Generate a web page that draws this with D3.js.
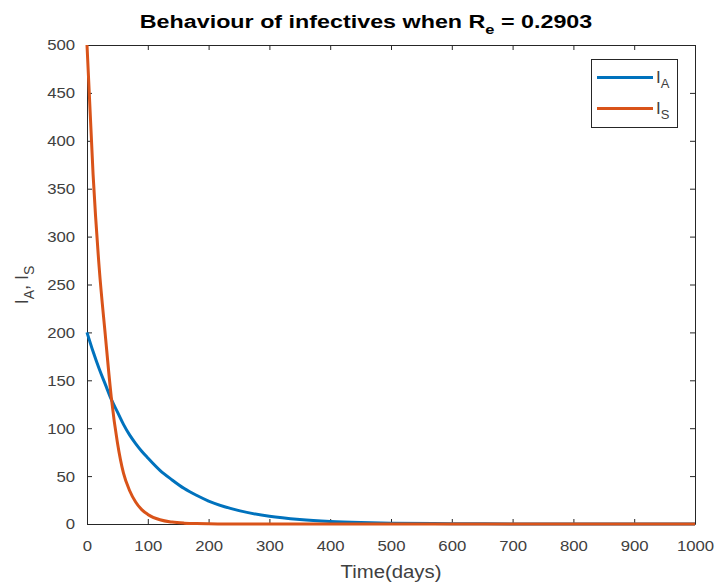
<!DOCTYPE html>
<html>
<head>
<meta charset="utf-8">
<script src="https://cdn.jsdelivr.net/npm/d3@7"></script>
<style>
  body { margin: 0; background: #fff; }
  text { font-family: "Liberation Sans", Arial, sans-serif; }
</style>
</head>
<body>
<script>
// time points (days)
var days = [0, 10, 20, 30, 40, 50, 60, 70, 80, 90, 100, 120, 140, 160, 180, 200,
            250, 300, 350, 400, 450, 500, 600, 700, 800, 900, 1000];
// asymptomatic infectives
var infA = [200, 180, 162, 146, 130, 117, 104, 93, 84, 76, 69, 56, 46, 37, 30, 24,
            14, 8, 4.6, 2.6, 1.5, 0.9, 0.3, 0.1, 0.03, 0.01, 0];
// symptomatic infectives
var infS = [500, 365, 268, 198, 132, 85, 53, 35, 23, 15, 10, 4.4, 2, 0.9, 0.4, 0.2,
            0.03, 0, 0, 0, 0, 0, 0, 0, 0, 0, 0];
var xTicks = [0, 100, 200, 300, 400, 500, 600, 700, 800, 900, 1000];
var yTicks = [0, 50, 100, 150, 200, 250, 300, 350, 400, 450, 500];

var W = 717, H = 587;
var margin = {top: 45, right: 22, bottom: 63, left: 87},
    width = W - margin.left - margin.right,
    height = H - margin.top - margin.bottom;

var x = d3.scaleLinear().domain([0, 1000]).range([0, width]);
var y = d3.scaleLinear().domain([0, 500]).range([height, 0]);

var svg = d3.select("body").append("svg")
    .attr("width", W)
    .attr("height", H);

var g = svg.append("g")
    .attr("transform", "translate(" + margin.left + "," + margin.top + ")");

var axisColor = "#262626", labelColor = "#404040";
var stretch = 1.08; // the reference text is a bit wider than Liberation Sans

// axes (ticks point inward, box on all sides)
function styleAxis(sel) {
  sel.select(".domain").attr("stroke", axisColor).attr("stroke-width", 1);
  sel.selectAll(".tick line").attr("stroke", axisColor);
  sel.selectAll(".tick text").attr("fill", labelColor)
     .style("font-size", "15.5px")
     .attr("transform", "scale(" + stretch + ",1)");
}

g.append("g")
    .attr("transform", "translate(0," + height + ")")
    .call(d3.axisBottom(x).tickValues(xTicks).tickFormat(d3.format("d"))
          .tickSize(-5).tickPadding(16).tickSizeOuter(0))
    .call(styleAxis);

g.append("g")
    .call(d3.axisLeft(y).tickValues(yTicks).tickSize(-5).tickPadding(11).tickSizeOuter(0))
    .call(styleAxis);

g.append("g")
    .call(d3.axisTop(x).tickValues(xTicks).tickSize(-5).tickFormat("").tickSizeOuter(0))
    .call(styleAxis);

g.append("g")
    .attr("transform", "translate(" + width + ",0)")
    .call(d3.axisRight(y).tickValues(yTicks).tickSize(-5).tickFormat("").tickSizeOuter(0))
    .call(styleAxis);

// curves
var line = d3.line()
    .x(function(d, i) { return x(days[i]); })
    .y(function(d) { return y(d); })
    .curve(d3.curveMonotoneX);

g.append("path")
    .datum(infA)
    .attr("fill", "none")
    .attr("stroke", "#0072BD")
    .attr("stroke-width", 3)
    .attr("d", line);

g.append("path")
    .datum(infS)
    .attr("fill", "none")
    .attr("stroke", "#D95319")
    .attr("stroke-width", 3)
    .attr("d", line);

// title
var title = svg.append("text")
    .attr("transform", "translate(366,28) scale(1.26,1)")
    .attr("text-anchor", "middle")
    .attr("fill", "#000")
    .style("font-size", "18.5px")
    .style("font-weight", "bold");
title.append("tspan").text("Behaviour of infectives when R");
title.append("tspan").attr("dy", 6).style("font-size", "13px").text("e");
title.append("tspan").attr("dy", -6).text(" = 0.2903");

// x label
svg.append("text")
    .attr("transform", "translate(" + (margin.left + width / 2) + ",578) scale(1.1,1)")
    .attr("text-anchor", "middle")
    .attr("fill", labelColor)
    .style("font-size", "18.5px")
    .text("Time(days)");

// y label
var ylab = svg.append("text")
    .attr("transform", "translate(28,285) rotate(-90)")
    .attr("text-anchor", "middle")
    .attr("fill", labelColor)
    .style("font-size", "18px");
ylab.append("tspan").text("I");
ylab.append("tspan").attr("dy", 6).style("font-size", "14px").text("A");
ylab.append("tspan").attr("dy", -6).text(", I");
ylab.append("tspan").attr("dy", 6).style("font-size", "14px").text("S");

// legend
var legend = svg.append("g");
legend.append("rect")
    .attr("x", 591.5).attr("y", 59.5)
    .attr("width", 86).attr("height", 68)
    .attr("fill", "#fff")
    .attr("stroke", axisColor);

var series = [{name: "A", color: "#0072BD"}, {name: "S", color: "#D95319"}];
series.forEach(function(s, i) {
  var ly = 77.5 + i * 31;
  legend.append("line")
      .attr("x1", 597).attr("x2", 653)
      .attr("y1", ly).attr("y2", ly)
      .attr("stroke", s.color).attr("stroke-width", 3);
  var t = legend.append("text")
      .attr("x", 656).attr("y", ly + 5)
      .attr("fill", labelColor)
      .style("font-size", "17px");
  t.append("tspan").text("I");
  t.append("tspan").attr("dy", 5).style("font-size", "13px").text(s.name);
});
</script>
</body>
</html>
